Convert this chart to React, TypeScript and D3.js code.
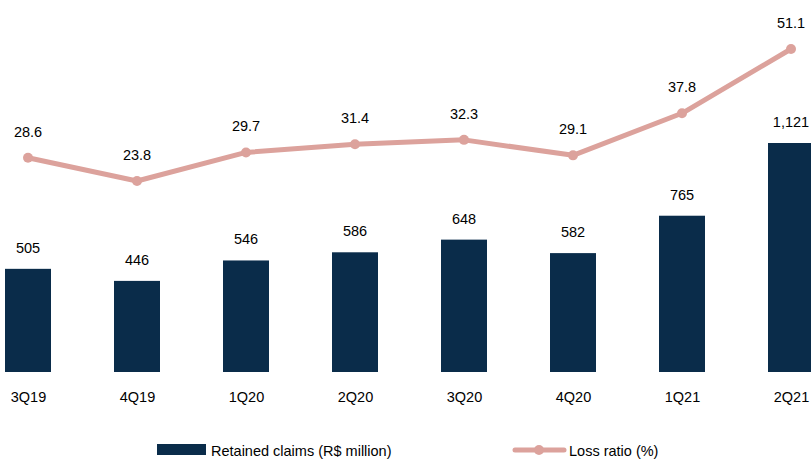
import React, { useEffect, useRef } from 'react';
import * as d3 from 'd3';

const quarters = ['3Q19', '4Q19', '1Q20', '2Q20', '3Q20', '4Q20', '1Q21', '2Q21'];
const retainedClaims = [505, 446, 546, 586, 648, 582, 765, 1121];
const lossRatio = [28.6, 23.8, 29.7, 31.4, 32.3, 29.1, 37.8, 51.1];

const NAVY = '#0a2c4a';
const PINK = '#dca29c';
const FONT = '"Liberation Sans", Arial, sans-serif';
const FONT_SIZE = 14.5;

export default function App() {
    const ref = useRef<SVGSVGElement>(null);

    useEffect(() => {
        document.body.style.margin = '0';
        const svg = d3.select(ref.current);
        svg.selectAll('*').remove();

        const baseline = 372;
        const barWidth = 46;

        // bar centres
        const x = d3.scalePoint<string>()
            .domain(quarters)
            .range([28, 791]);

        const yBar = d3.scaleLinear()
            .domain([0, 1121])
            .range([baseline, 143]);

        const yLine = d3.scaleLinear()
            .domain([0, 51.1])
            .range([296, 49]);

        const g = svg.append('g').attr('font-family', FONT).attr('font-size', FONT_SIZE).attr('fill', '#000');

        // bars
        g.selectAll('rect.bar')
            .data(retainedClaims)
            .enter()
            .append('rect')
            .attr('class', 'bar')
            .attr('x', (d, i) => x(quarters[i])! - barWidth / 2)
            .attr('y', d => yBar(d))
            .attr('width', barWidth)
            .attr('height', d => baseline - yBar(d))
            .attr('fill', NAVY);

        g.selectAll('text.barlabel')
            .data(retainedClaims)
            .enter()
            .append('text')
            .attr('class', 'barlabel')
            .attr('x', (d, i) => x(quarters[i])!)
            .attr('y', d => yBar(d) - 16)
            .attr('text-anchor', 'middle')
            .text(d => d3.format(',')(d));

        // line
        const line = d3.line<number>()
            .x((d, i) => x(quarters[i])!)
            .y(d => yLine(d));

        g.append('path')
            .datum(lossRatio)
            .attr('d', line)
            .attr('fill', 'none')
            .attr('stroke', PINK)
            .attr('stroke-width', 5)
            .attr('stroke-linejoin', 'round');

        g.selectAll('circle.pt')
            .data(lossRatio)
            .enter()
            .append('circle')
            .attr('class', 'pt')
            .attr('cx', (d, i) => x(quarters[i])!)
            .attr('cy', d => yLine(d))
            .attr('r', 5)
            .attr('fill', PINK);

        g.selectAll('text.linelabel')
            .data(lossRatio)
            .enter()
            .append('text')
            .attr('class', 'linelabel')
            .attr('x', (d, i) => x(quarters[i])!)
            .attr('y', d => yLine(d) - 21)
            .attr('text-anchor', 'middle')
            .text(d => d.toFixed(1));

        // x axis labels
        const xAxis = d3.axisBottom(x).tickSize(0).tickPadding(0);
        const axisGroup = g.append('g')
            .attr('transform', `translate(0, ${baseline})`)
            .call(xAxis);
        axisGroup.select('.domain').remove();
        axisGroup.selectAll('text')
            .attr('font-family', FONT)
            .attr('font-size', FONT_SIZE)
            .attr('fill', '#000')
            .attr('dy', null)
            .attr('y', 30);

        // legend
        const legend = g.append('g');
        legend.append('rect')
            .attr('x', 157).attr('y', 444).attr('width', 49).attr('height', 11)
            .attr('fill', NAVY);
        legend.append('text')
            .attr('x', 211).attr('y', 456)
            .text('Retained claims (R$ million)');
        legend.append('line')
            .attr('x1', 515).attr('x2', 564).attr('y1', 450).attr('y2', 450)
            .attr('stroke', PINK).attr('stroke-width', 5).attr('stroke-linecap', 'round');
        legend.append('circle')
            .attr('cx', 539).attr('cy', 450).attr('r', 5).attr('fill', PINK);
        legend.append('text')
            .attr('x', 569).attr('y', 456)
            .text('Loss ratio (%)');
    }, []);

    return <svg ref={ref} width={811} height={459} style={{ display: 'block' }} />;
}
